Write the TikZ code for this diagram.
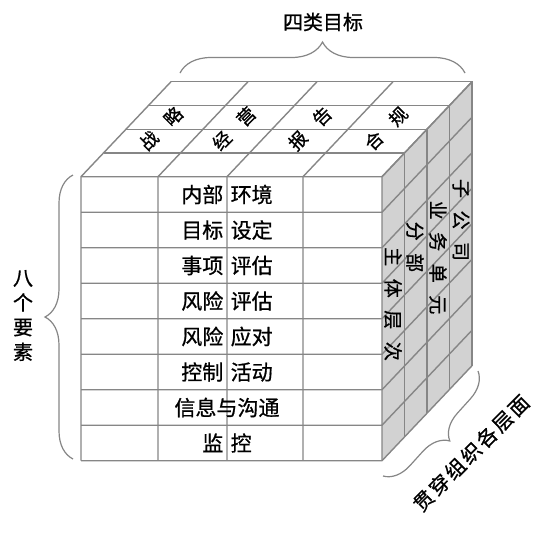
\documentclass[tikz,border=0pt]{standalone}
\usepackage{fontspec}
\setmainfont{Noto Sans CJK SC}[FakeBold=0.8]
\usetikzlibrary{decorations.pathreplacing}

\tikzset{
  edge line/.style={draw=gray!95, line width=1.4pt},
  brace line/.style={draw=gray!95, line width=1.2pt, decorate,
    decoration={brace, amplitude=#1}},
  row label/.style={font=\fontsize{21}{24}\selectfont},
  goal label/.style={font=\fontsize{18}{20}\selectfont, rotate=45},
  unit label/.style={font=\fontsize{19}{20}\selectfont, rotate=-90},
}
\newcommand\gapF{\hspace{.35em}}
\newcommand\gapT{\hspace{.9em}}
\newcommand\gapR{\hspace{.66em}}
\newcommand\gapB{\hspace{.12em}}

\begin{document}
\begin{tikzpicture}[x=1pt,y=-1pt]
    \fill[white] (0,0) rectangle (553,539);
    % right face
    \fill[gray!35] (382,176.7) -- (472,81.7) -- (472,365.7) -- (382,460.7) -- cycle;
    % rows of the front face, carried over the right face
    \foreach \y in {0,...,8}
      \draw[edge line] (81,176.7+35.5*\y) -- (382,176.7+35.5*\y) -- ++(90,-95);
    % columns of the front face, carried over the top face
    \foreach \x in {81,158,227,303,382}
      \draw[edge line] (\x,460.7) -- (\x,176.7) -- ++(90,-95);
    % depth layers
    \foreach \k in {1,...,4}
      \draw[edge line] (81+22.5*\k,176.7-23.75*\k) -- (382+22.5*\k,176.7-23.75*\k) -- ++(0,284);
    % labels
    \foreach \t [count=\i from 0] in {内部\gapF{}环境,目标\gapF{}设定,事项\gapF{}评估,风险\gapF{}评估,风险\gapF{}应对,控制\gapF{}活动,信息与沟通,监\gapF{}控}
      \node[row label] (row\i) at (227,194.5+35.5*\i) {\t};
    \foreach \t/\x [count=\i] in {战\gapT{}略/161,经\gapT{}营/234,报\gapT{}告/310,合\gapT{}规/386}
      \node[goal label] (goal\i) at (\x,128.5) {\t};
    \node[unit label] (unit1) at (393,304) {主\gapR{}体\gapR{}层\gapR{}次};
    \node[unit label] (unit2) at (415,247) {分\gapR{}部};
    \node[unit label] (unit3) at (438,257.5) {业\gapR{}务\gapR{}单\gapR{}元};
    \node[unit label] (unit4) at (461,220) {子\gapR{}公\gapR{}司};
    \node[font=\fontsize{20}{24}\selectfont] (goals) at (323,22) {四类目标};
    \node[font=\fontsize{20}{24.7}\selectfont, align=center] (elems) at (23,315.5) {八\\个\\要\\素};
    \node[font=\fontsize{20}{24}\selectfont, rotate=45] (levels) at (471,453)
      {贯\gapB{}穿\gapB{}组\gapB{}织\gapB{}各\gapB{}层\gapB{}面};
    % braces
    \draw[brace line=31] (180,73) -- (465,73);
    \draw[brace line=28] (73,459) -- (73,175);
    \draw[brace line=26] (478,371) -- (383,476);
  \end{tikzpicture}
\end{document}
